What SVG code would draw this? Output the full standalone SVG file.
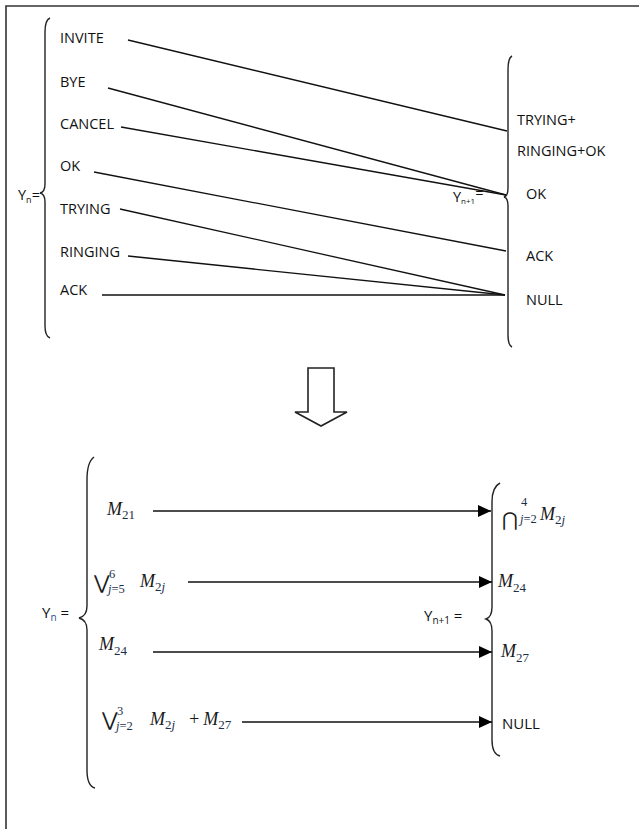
<svg xmlns="http://www.w3.org/2000/svg" width="639" height="829" viewBox="0 0 639 829">
<style>
.lbl{font-family:"Open Sans","Liberation Sans",sans-serif;font-size:14.5px;fill:#111}
.big{font-family:"Open Sans","Liberation Sans",sans-serif;font-size:15px;fill:#111}
.m{font-family:"Liberation Serif","DejaVu Serif",serif;font-style:italic;font-size:18px;fill:#1a1a1a}
.sub{font-family:"Liberation Serif","DejaVu Serif",serif;font-style:normal;font-size:13px;fill:#1c2f4a}
.subi{font-family:"Liberation Serif","DejaVu Serif",serif;font-style:italic;font-size:13px;fill:#1c2f4a}
.ss{font-family:"Liberation Serif","DejaVu Serif",serif;font-style:normal;font-size:12.5px;fill:#1c2f4a}
.ssi{font-family:"Liberation Serif","DejaVu Serif",serif;font-style:italic;font-size:12.5px;fill:#1c2f4a}
.op{font-family:"DejaVu Sans",sans-serif;font-size:19px;fill:#1a1a1a}
.ln{stroke:#111;stroke-width:1.3;fill:none}
.arr{stroke:#111;stroke-width:1.5;fill:none;marker-end:url(#ah)}
.br{stroke:#222;stroke-width:1.4;fill:none}
</style>
<defs>
<marker id="ah" markerUnits="userSpaceOnUse" markerWidth="13" markerHeight="12" refX="13" refY="6" orient="auto">
<path d="M0,0 L13,6 L0,12 Z" fill="#000"/>
</marker>
</defs>
<rect width="639" height="829" fill="#fff"/>
<path d="M6,829 L6,6 L639,6" stroke="#333" stroke-width="1.6" fill="none"/>

<g id="top-left">
<path class="br" d="M50,18 Q45,20 45,32 L45,184 Q45,192 40,193 Q45,194 45,202 L45,326 Q45,336 50,338"/>
<text class="lbl" x="18" y="200">Y<tspan font-size="9" dy="3">n</tspan><tspan dy="-3">=</tspan></text>
<text class="lbl" x="60" y="43">INVITE</text>
<text class="lbl" x="60" y="87">BYE</text>
<text class="lbl" x="60" y="129">CANCEL</text>
<text class="lbl" x="60" y="171">OK</text>
<text class="lbl" x="60" y="214">TRYING</text>
<text class="lbl" x="60" y="257">RINGING</text>
<text class="lbl" x="60" y="295">ACK</text>
</g>

<g id="top-right">
<path class="br" d="M512,56 Q508,58 508,70 L508,188 Q508,196 504,197 Q508,198 508,206 L508,335 Q508,345 512,347"/>
<text class="lbl" x="453" y="202" font-size="12">Y<tspan font-size="8" dy="2">n+1</tspan><tspan dy="-6">=</tspan></text>
<text class="lbl" x="517" y="125">TRYING+</text>
<text class="lbl" x="517" y="156">RINGING+OK</text>
<text class="lbl" x="526" y="199">OK</text>
<text class="lbl" x="526" y="261">ACK</text>
<text class="lbl" x="526" y="305">NULL</text>
</g>

<g id="top-connectors">
<line class="ln" x1="128" y1="40" x2="507" y2="131"/>
<line class="ln" x1="108" y1="88" x2="506" y2="195"/>
<line class="ln" x1="121" y1="127" x2="506" y2="195"/>
<line class="ln" x1="94" y1="172" x2="506" y2="251"/>
<line class="ln" x1="120" y1="209" x2="505" y2="295"/>
<line class="ln" x1="128" y1="256" x2="505" y2="295"/>
<line class="ln" x1="102" y1="295" x2="505" y2="295"/>
</g>

<g id="block-arrow">
<path d="M308,368 L334,368 L334,412 L347,412 L321,426 L295,412 L308,412 Z" fill="#fff" stroke="#222" stroke-width="1.6" stroke-linejoin="miter"/>
</g>

<g id="bottom-left">
<path class="br" d="M94,457 Q87,462 87,480 L87,606 Q87,616 79,618 Q87,620 87,630 L87,770 Q87,786 95,788"/>
<text class="big" x="42" y="618" font-size="14">Y<tspan font-size="10" dy="3" fill="#2f4f7f">n</tspan><tspan dy="-3"> =</tspan></text>
<text x="107" y="515"><tspan class="m">M</tspan><tspan class="sub" dy="4">21</tspan></text>
<text class="op" x="94" y="589">⋁</text>
<text class="ss" x="109" y="578">6</text>
<text x="108" y="593"><tspan class="ssi">j</tspan><tspan class="ss">=5</tspan></text>
<text x="140" y="587"><tspan class="m">M</tspan><tspan class="sub" dy="4">2</tspan><tspan class="subi">j</tspan></text>
<text x="99" y="650"><tspan class="m">M</tspan><tspan class="sub" dy="5">24</tspan></text>
<text class="op" x="102" y="726">⋁</text>
<text class="ss" x="117" y="715">3</text>
<text x="116" y="730"><tspan class="ssi">j</tspan><tspan class="ss">=2</tspan></text>
<text x="150" y="725"><tspan class="m">M</tspan><tspan class="sub" dy="4">2</tspan><tspan class="subi">j</tspan></text>
<text x="188" y="725"><tspan class="m" font-style="normal">+</tspan><tspan class="m" dx="3">M</tspan><tspan class="sub" dy="4">27</tspan></text>
</g>

<g id="bottom-right">
<path class="br" d="M500,483 Q492,487 492,502 L492,607 Q492,617 486,619 Q492,621 492,631 L492,740 Q492,754 500,756"/>
<text class="big" x="424" y="621" font-size="14">Y<tspan font-size="10" dy="3">n+1</tspan><tspan dy="-3"> =</tspan></text>
<text class="op" x="502" y="526" font-size="21">⋂</text>
<text class="ss" x="521" y="506">4</text>
<text x="520" y="523"><tspan class="ssi">j</tspan><tspan class="ss">=2</tspan></text>
<text x="540" y="520"><tspan class="m">M</tspan><tspan class="sub" dy="4">2</tspan><tspan class="subi">j</tspan></text>
<text x="498" y="587"><tspan class="m">M</tspan><tspan class="sub" dy="5">24</tspan></text>
<text x="501" y="657"><tspan class="m">M</tspan><tspan class="sub" dy="5">27</tspan></text>
<text class="big" x="502" y="729">NULL</text>
</g>

<g id="bottom-connectors">
<line class="arr" x1="153" y1="511" x2="491" y2="511"/>
<line class="arr" x1="188" y1="582" x2="492" y2="582"/>
<line class="arr" x1="153" y1="652" x2="492" y2="652"/>
<line class="arr" x1="242" y1="722" x2="492" y2="722"/>
</g>
</svg>
